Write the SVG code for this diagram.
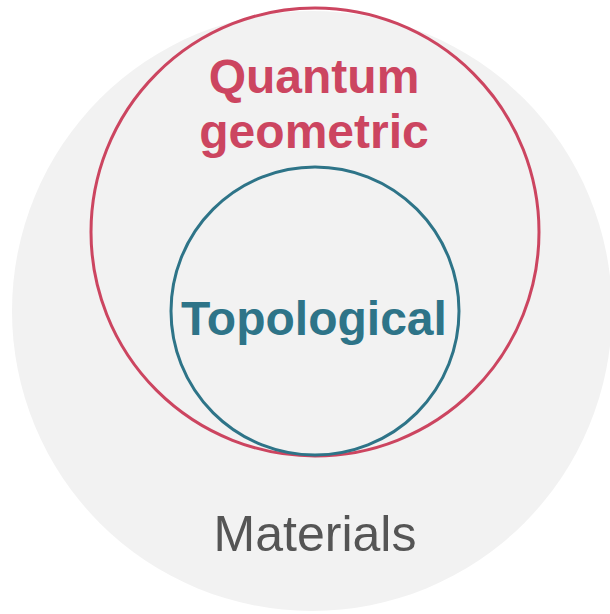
<svg xmlns="http://www.w3.org/2000/svg" width="610" height="614" viewBox="0 0 610 614">
<style>
.bold{font-family:"Liberation Sans",Arial,sans-serif;font-weight:bold;font-size:48px;text-anchor:middle}
.reg{font-family:"Liberation Sans",Arial,sans-serif;font-size:50px;text-anchor:middle;fill:#555555}
</style>
<rect width="610" height="614" fill="#ffffff"/>
<g id="materials">
<circle cx="312" cy="311" r="300" fill="#f2f2f2"/>
<text class="reg" x="315" y="551">Materials</text>
</g>
<g id="quantum-geometric">
<circle cx="315" cy="232" r="224" fill="none" stroke="#cc4560" stroke-width="3"/>
<text class="bold" x="314" y="93" fill="#cc4560">Quantum</text>
<text class="bold" x="314" y="148" fill="#cc4560">geometric</text>
</g>
<g id="topological">
<circle cx="315" cy="311" r="144" fill="none" stroke="#2e7488" stroke-width="3"/>
<text class="bold" x="314" y="335" fill="#2e7488">Topological</text>
</g>
</svg>
